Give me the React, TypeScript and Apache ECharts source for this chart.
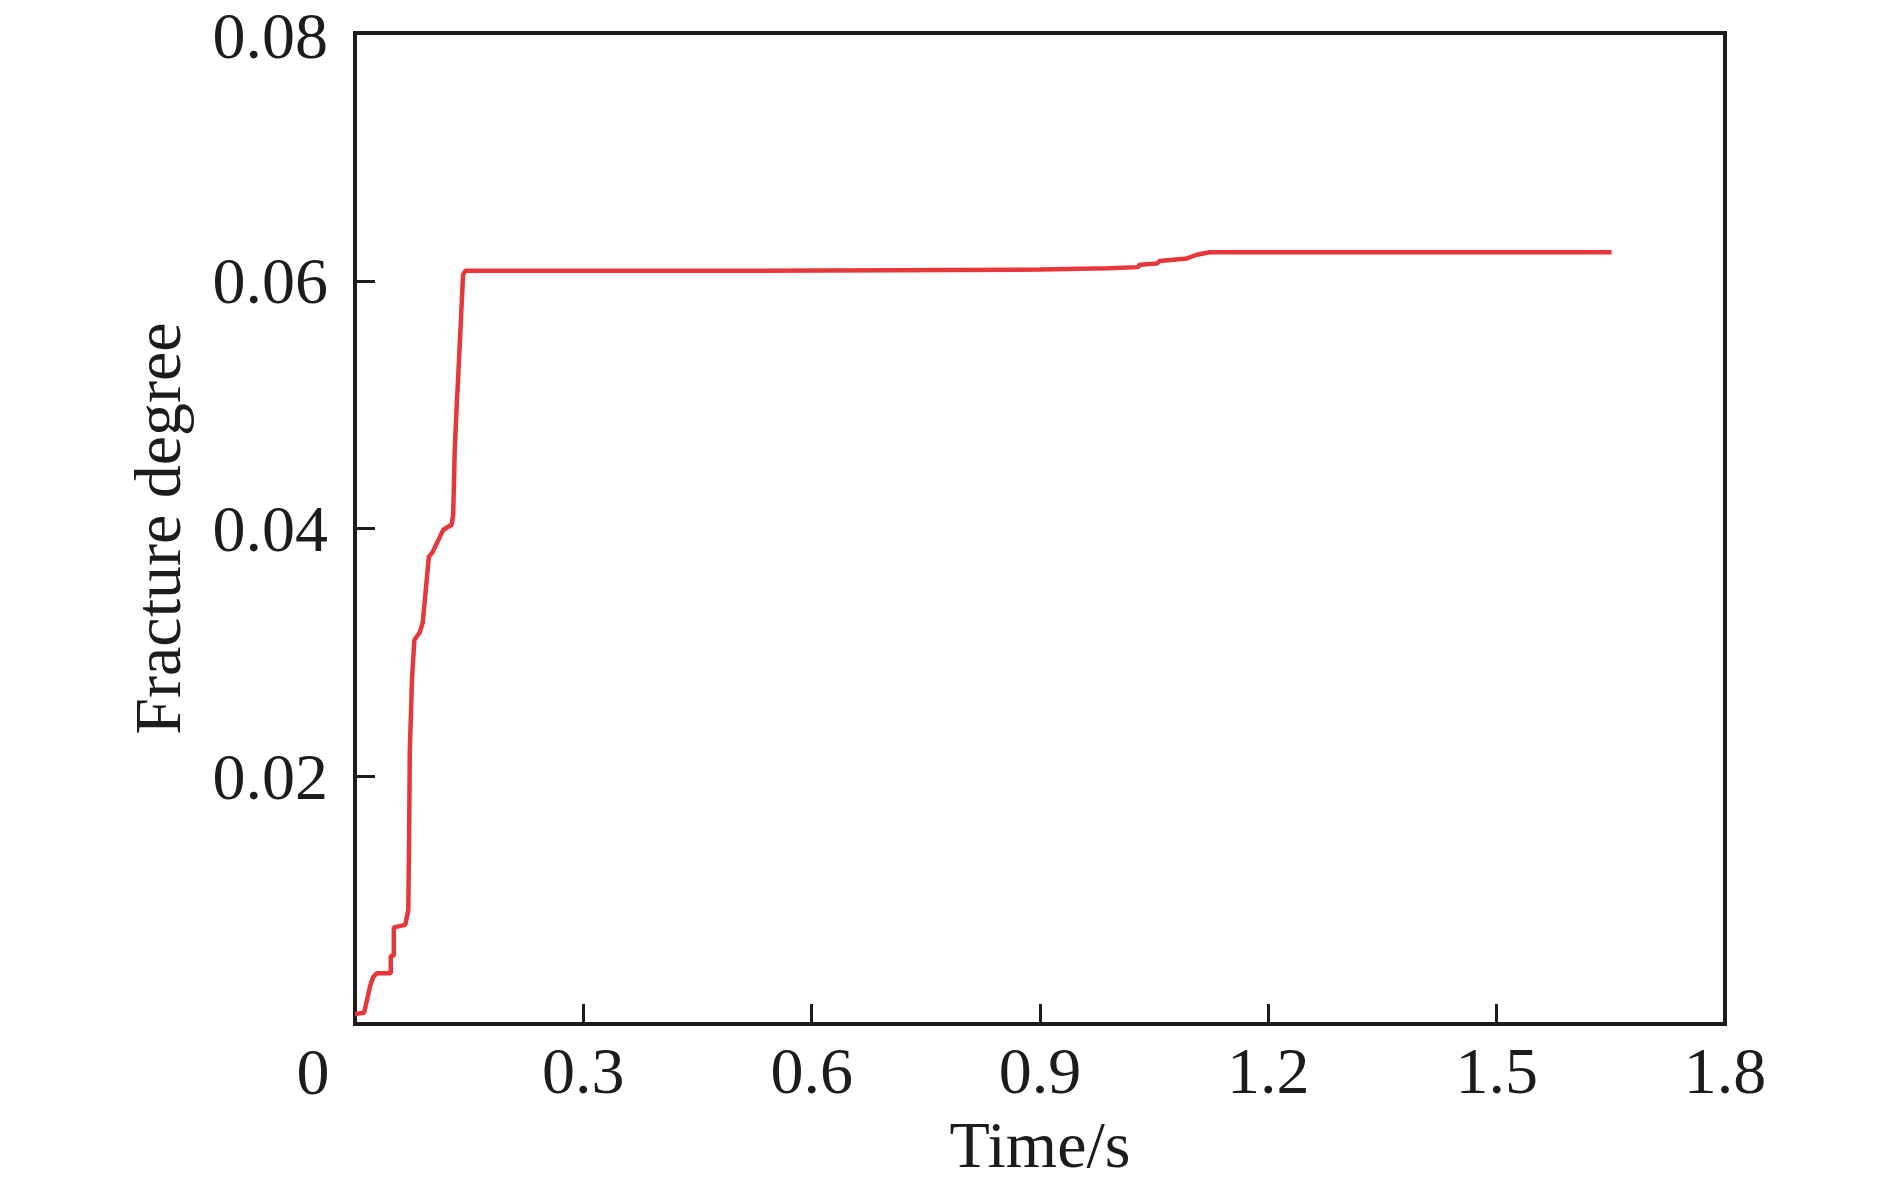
import React, { useEffect, useRef } from "react";
import * as echarts from "echarts";

const timeS: number[] = [
  0, 0.012, 0.016, 0.02, 0.024, 0.029, 0.047, 0.047, 0.051, 0.051, 0.066, 0.07,
  0.071, 0.072, 0.075, 0.078, 0.085, 0.089, 0.097, 0.102, 0.109, 0.116, 0.127,
  0.129, 0.131, 0.134, 0.135, 0.142, 0.145, 0.5, 0.9, 0.99, 1.029, 1.031, 1.054,
  1.057, 1.093, 1.106, 1.123, 1.651,
];
const fractureDegree: number[] = [
  0.0008, 0.0009, 0.002, 0.0031, 0.0038, 0.0041, 0.0041, 0.0055, 0.0055, 0.0078,
  0.008, 0.0092, 0.0143, 0.0221, 0.028, 0.031, 0.0316, 0.0324, 0.0377, 0.0381,
  0.039, 0.0399, 0.0403, 0.0411, 0.0463, 0.0504, 0.0515, 0.0605, 0.0608, 0.0608,
  0.0609, 0.061, 0.0611, 0.0613, 0.0614, 0.0616, 0.0618, 0.0621, 0.0623, 0.0623,
];

const xAxisName = "Time/s";
const yAxisName = "Fracture degree";
const originLabel = "0";
const Y_MAX = 0.08;

const FONT = "Liberation Serif";
const INK = "#1c1c1c";
const FS = 66;

export default function App() {
  const ref = useRef<HTMLDivElement>(null);
  useEffect(() => {
    if (!ref.current) return;
    const chart = echarts.init(ref.current, undefined, { renderer: "svg" });
    const data = timeS.map((t, i) => [t, fractureDegree[i]]);
    chart.setOption({
      animation: false,
      backgroundColor: "#ffffff",
      grid: {
        left: 355,
        right: 165,
        top: 33,
        bottom: 166,
        outerBoundsMode: "none",
        containLabel: false,
        show: true,
        borderColor: INK,
        borderWidth: 4,
        backgroundColor: "transparent",
      },
      xAxis: {
        type: "value",
        min: 0,
        max: 1.8,
        interval: 0.3,
        name: xAxisName,
        nameLocation: "middle",
        nameGap: 90,
        nameTextStyle: { fontFamily: FONT, fontSize: FS, color: INK, lineHeight: 60 },
        axisLine: { show: true, lineStyle: { color: INK, width: 4 } },
        axisTick: { show: true, inside: true, length: 20, lineStyle: { color: INK, width: 3 } },
        axisLabel: {
          showMinLabel: false,
          margin: 16,
          fontFamily: FONT,
          fontSize: FS,
          lineHeight: 60,
          color: INK,
          formatter: (v: number) => v.toFixed(1),
        },
        splitLine: { show: false },
      },
      yAxis: {
        type: "value",
        min: 0,
        max: Y_MAX,
        interval: 0.02,
        name: yAxisName,
        nameLocation: "middle",
        nameGap: 168,
        nameRotate: 90,
        nameTextStyle: { fontFamily: FONT, fontSize: FS, color: INK, lineHeight: 60 },
        axisLine: { show: true, lineStyle: { color: INK, width: 4 } },
        axisTick: { show: true, inside: true, length: 20, lineStyle: { color: INK, width: 3 } },
        axisLabel: {
          showMinLabel: false,
          margin: 27,
          fontFamily: FONT,
          fontSize: FS,
          lineHeight: 56,
          color: INK,
          formatter: (v: number) =>
            Math.abs(v - Y_MAX) < 1e-9 ? `{top|${v.toFixed(2)}}` : v.toFixed(2),
          rich: {
            top: {
              fontFamily: FONT,
              fontSize: FS,
              lineHeight: 56,
              color: INK,
              padding: [5, 0, 0, 0],
            },
          },
        },
        splitLine: { show: false },
      },
      graphic: [
        {
          type: "text",
          x: 313,
          y: 1071,
          style: {
            text: originLabel,
            fontFamily: FONT,
            fontSize: FS,
            fill: INK,
            textAlign: "center",
            textVerticalAlign: "middle",
          },
        },
      ],
      series: [
        {
          type: "line",
          data,
          showSymbol: false,
          symbol: "none",
          lineStyle: { color: "#e8373a", width: 4.5 },
          z: 3,
        },
      ],
    });
    return () => chart.dispose();
  }, []);
  return (
    <div
      ref={ref}
      style={{ position: "fixed", left: 0, top: 0, width: 1890, height: 1190, background: "#fff" }}
    />
  );
}
